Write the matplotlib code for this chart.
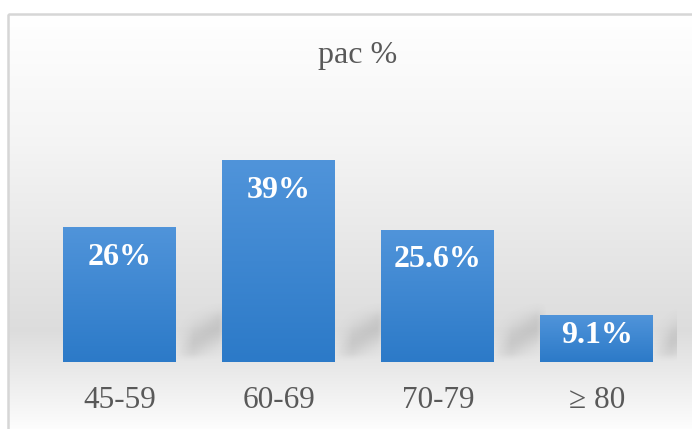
import numpy as np
import matplotlib
matplotlib.use('Agg')
from matplotlib import pyplot as plt
from matplotlib.patches import Rectangle

categories = ['45-59', '60-69', '70-79', '\u2265 80']
values = [26, 39, 25.6, 9.1]
labels = ['26%', '39%', '25.6%', '9.1%']
title = 'pac %'

plt.rcParams['font.family'] = ['Liberation Serif', 'DejaVu Serif']

W, H = 692, 429
fig = plt.figure(figsize=(W / 100, H / 100), dpi=100)
fig.patch.set_facecolor('white')

# background of the chart area (white -> gray -> white)
bg = fig.add_axes([0, 0, 1, 1])
bg.axis('off')
stops_pos = [0.0, 0.3, 0.76, 0.92, 1.0]
stops_val = [1.0, 0.96, 0.865, 0.95, 0.995]
t = np.linspace(0, 1, 300)
g = np.interp(t, stops_pos, stops_val)
grad = np.dstack([g, g, g]).reshape(300, 1, 3)
bg.imshow(grad, extent=[8, W + 2, H + 2, 14], aspect='auto', interpolation='bilinear')
bg.add_patch(Rectangle((8, 14), W, H, fill=False, edgecolor='#d6d6d6', linewidth=1.8))
bg.set_xlim(0, W)
bg.set_ylim(H, 0)

ax = fig.add_axes([40 / W, 1 - 362 / H, 636.5 / W, 232 / H])
ax.set_facecolor('none')
x = np.arange(len(values))
w = 0.71

# soft diagonal shadow to the right of each bar
uu, vv = np.meshgrid(np.linspace(0, 1, 100), np.linspace(12, 0, 100))
a = (0.17 * np.exp(-((vv - 1.5 - 6.5 * uu) / 3.4) ** 2)
     * np.clip(uu * 3.0, 0, 1) * np.clip((1 - uu) * 5.0, 0, 1)
     * np.clip(vv / 1.5, 0, 1) * np.clip((12 - vv) / 3.0, 0, 1))
shadow = np.zeros((100, 100, 4))
shadow[..., :3] = 0.35
shadow[..., 3] = a
for xi in x:
    r = xi + w / 2
    ax.imshow(shadow, extent=[r, r + 0.33, 0, 12], aspect='auto',
              interpolation='bilinear', zorder=1)

bars = ax.bar(x, values, width=w, color='#3d87d0', zorder=2)
top = np.array([80, 148, 218]) / 255
bot = np.array([44, 122, 200]) / 255
tt = np.linspace(0, 1, 100)[:, None]
bar_grad = (top * (1 - tt) + bot * tt).reshape(100, 1, 3)
for b in bars:
    ax.imshow(bar_grad, extent=[b.get_x(), b.get_x() + b.get_width(), 0, b.get_height()],
              aspect='auto', interpolation='bilinear', zorder=3)

for xi, v, lab in zip(x, values, labels):
    ax.text(xi, max(v - 5.8, v * 0.57), lab, ha='center', va='center',
            color='white', fontsize=23, fontweight='bold', zorder=4)

ax.set_xlim(-0.5, 3.5)
ax.set_ylim(0, 45)
ax.set_xticks(x)
ax.set_xticklabels(categories, fontsize=22.5, color='#595959')
ax.tick_params(axis='x', length=0, pad=17)
ax.set_yticks([])
for sp in ax.spines.values():
    sp.set_visible(False)

fig.text(358 / W, 1 - 55 / H, title, ha='center', va='center', fontsize=23, color='#595959')

fig.savefig('out.png', dpi=100)
